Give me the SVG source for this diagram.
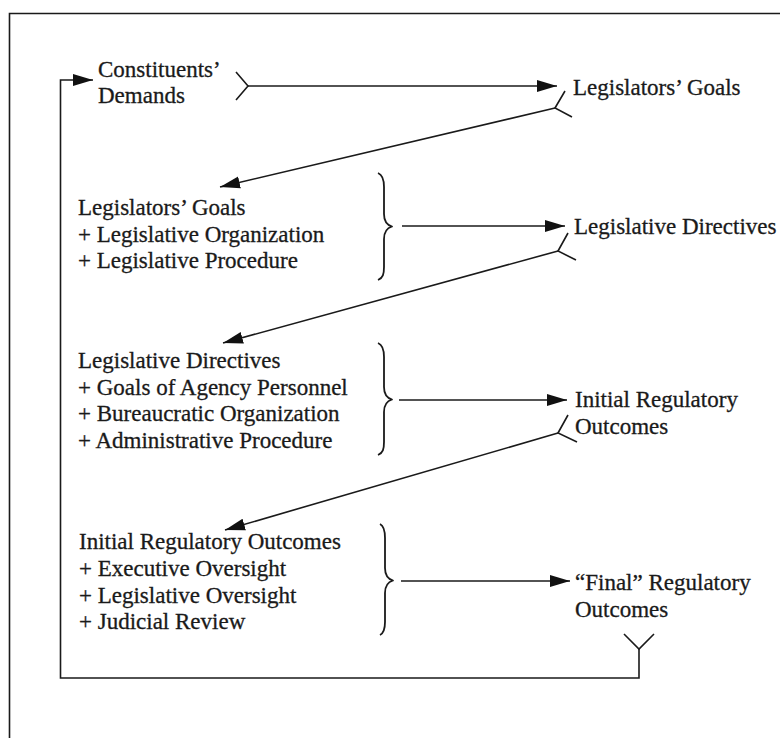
<svg xmlns="http://www.w3.org/2000/svg" width="780" height="738" viewBox="0 0 780 738">
<defs>
<marker id="ah" markerUnits="userSpaceOnUse" markerWidth="22" markerHeight="14" refX="20" refY="6.5" orient="auto">
<path d="M0,0.5 L20,6.5 L0,12.5 z" fill="#111"/>
</marker>
<style>
.t{font-family:'Liberation Serif','Times New Roman',serif;font-size:23px;fill:#1a1a1a;stroke:#1a1a1a;stroke-width:0.3}
.c{fill:none;stroke:#1a1a1a;stroke-width:1.6}
.b{fill:none;stroke:#1a1a1a;stroke-width:1.8;stroke-linejoin:round}
</style>
</defs>
<rect width="780" height="738" fill="#fff"/>
<path class="c" d="M9.5,738 L9.5,13.5 L780,13.5"/>

<g id="connectors">
<polyline class="c" points="236,72 248,86 236,100"/>
<line class="c" x1="248" y1="86" x2="557" y2="86" marker-end="url(#ah)"/>
<polyline class="c" points="565,91 555,108 572,117"/>
<line class="c" x1="555" y1="108" x2="220" y2="187" marker-end="url(#ah)"/>
<line class="c" x1="402" y1="226" x2="565" y2="226" marker-end="url(#ah)"/>
<polyline class="c" points="568,233 558,251 576,260"/>
<line class="c" x1="558" y1="251" x2="223" y2="343" marker-end="url(#ah)"/>
<line class="c" x1="399" y1="400" x2="567" y2="400" marker-end="url(#ah)"/>
<polyline class="c" points="568,415 558,433 577,442"/>
<line class="c" x1="558" y1="433" x2="225" y2="530" marker-end="url(#ah)"/>
<line class="c" x1="401" y1="581" x2="570" y2="581" marker-end="url(#ah)"/>
<polyline class="c" points="624,634 639,649 654,634"/>
<path class="c" d="M639,649 L639,678 L60.5,678 L60.5,80 L93,80" marker-end="url(#ah)"/>
</g>

<g id="constituents-demands">
<text class="t" x="98" y="77">Constituents’</text>
<text class="t" x="98" y="103">Demands</text>
</g>

<g id="legislators-goals">
<text class="t" x="573" y="95">Legislators’ Goals</text>
</g>

<g id="legislative-inputs">
<text class="t" x="78" y="215">Legislators’ Goals</text>
<text class="t" x="78" y="241.5">+ Legislative Organization</text>
<text class="t" x="78" y="268">+ Legislative Procedure</text>
<path class="b" d="M378,173 C383,175 384,180 384,187 L384,214 C384,221 387,225 392,226.5 C387,228 384,232 384,239 L384,267 C384,274 383,278 378,280"/>
</g>

<g id="legislative-directives">
<text class="t" x="574" y="234">Legislative Directives</text>
</g>

<g id="bureaucratic-inputs">
<text class="t" x="78" y="368">Legislative Directives</text>
<text class="t" x="78" y="394.5">+ Goals of Agency Personnel</text>
<text class="t" x="78" y="421">+ Bureaucratic Organization</text>
<text class="t" x="78" y="447.5">+ Administrative Procedure</text>
<path class="b" d="M378,343 C383,345 384,350 384,357 L384,387 C384,394 387,398 392,399.5 C387,401 384,405 384,412 L384,442 C384,449 383,453 378,455"/>
</g>

<g id="initial-regulatory-outcomes">
<text class="t" x="575" y="407">Initial Regulatory</text>
<text class="t" x="575" y="434">Outcomes</text>
</g>

<g id="oversight-inputs">
<text class="t" x="79" y="549">Initial Regulatory Outcomes</text>
<text class="t" x="79" y="576">+ Executive Oversight</text>
<text class="t" x="79" y="602.5">+ Legislative Oversight</text>
<text class="t" x="79" y="629">+ Judicial Review</text>
<path class="b" d="M380,524 C384,526 385,531 385,538 L385,568 C385,575 388,579 393,580.5 C388,582 385,586 385,593 L385,622 C385,629 384,633 380,635"/>
</g>

<g id="final-regulatory-outcomes">
<text class="t" x="575" y="590">“Final” Regulatory</text>
<text class="t" x="575" y="617">Outcomes</text>
</g>
</svg>
